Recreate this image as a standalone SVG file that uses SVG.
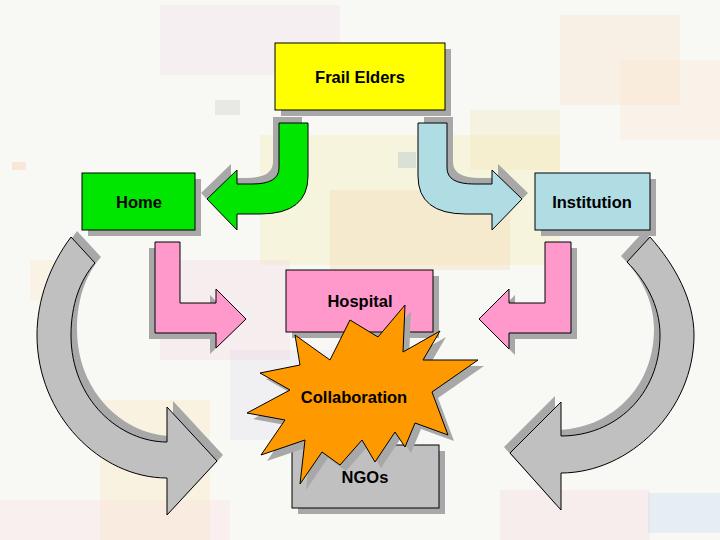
<svg xmlns="http://www.w3.org/2000/svg" width="720" height="540" viewBox="0 0 720 540">
<style>
.s{fill:#a8a8a8}
.o{stroke:#000;stroke-width:1}
.t{font-family:"Liberation Sans",Arial,sans-serif;font-size:16.5px;font-weight:bold;fill:#000;text-anchor:middle}
.bg rect{opacity:0.22}
</style>
<rect width="720" height="540" fill="#f8f8f4"/>
<g class="bg">
<rect x="160" y="5" width="180" height="70" fill="#f0d0e8"/>
<rect x="560" y="15" width="120" height="90" fill="#ffd8b0"/>
<rect x="260" y="135" width="300" height="130" fill="#f8e890"/>
<rect x="330" y="190" width="180" height="80" fill="#f0c890"/>
<rect x="470" y="110" width="90" height="60" fill="#f0e0a0"/>
<rect x="160" y="260" width="130" height="100" fill="#f0c8e0"/>
<rect x="230" y="350" width="110" height="90" fill="#d8d0e8"/>
<rect x="100" y="400" width="110" height="140" fill="#ffe0a0"/>
<rect x="0" y="500" width="230" height="40" fill="#ffd0e0"/>
<rect x="500" y="490" width="150" height="50" fill="#f8c8d8"/>
<rect x="648" y="493" width="72" height="40" fill="#a8c8f0"/>
<rect x="30" y="260" width="40" height="40" fill="#ffe0b0"/>
<rect x="215" y="100" width="25" height="15" fill="#b0b0b0"/>
<rect x="398" y="152" width="18" height="16" fill="#70a0c0"/>
<rect x="12" y="162" width="14" height="8" fill="#ffb070"/>
<rect x="620" y="60" width="100" height="80" fill="#ffe0c0"/>
</g>
<g id="connectors">
<g id="green-arrow">
<path class="s" transform="translate(-6,-6)" d="M279,123 L308,123 L308,176 Q308,214 260,214 L237,214 L237,230 L207,199 L237,170 L237,184 L252,184 Q279,184 279,168 Z"/>
<path class="o" fill="#00e600" d="M279,123 L308,123 L308,176 Q308,214 260,214 L237,214 L237,230 L207,199 L237,170 L237,184 L252,184 Q279,184 279,168 Z"/>
</g>
<g id="blue-arrow">
<path class="s" transform="translate(6,-6)" d="M447,123 L418,123 L418,176 Q418,214 466,214 L492,214 L492,230 L522,199 L492,170 L492,184 L474,184 Q447,184 447,168 Z"/>
<path class="o" fill="#b0dde4" d="M447,123 L418,123 L418,176 Q418,214 466,214 L492,214 L492,230 L522,199 L492,170 L492,184 L474,184 Q447,184 447,168 Z"/>
</g>
<g id="pink-left">
<path class="s" transform="translate(-6,6)" d="M155,242 L180,242 L180,303 L216,303 L216,289 L246,319 L216,348 L216,333 L155,333 Z"/>
<path class="o" fill="#ff99cc" d="M155,242 L180,242 L180,303 L216,303 L216,289 L246,319 L216,348 L216,333 L155,333 Z"/>
</g>
<g id="pink-right">
<path class="s" transform="translate(6,6)" d="M571,242 L545,242 L545,303 L509,303 L509,289 L479,319 L509,349 L509,333 L571,333 Z"/>
<path class="o" fill="#ff99cc" d="M571,242 L545,242 L545,303 L509,303 L509,289 L479,319 L509,349 L509,333 L571,333 Z"/>
</g>
<g id="gray-left">
<path class="s" transform="translate(6,-6)" d="M71,237 C50,265 37,300 37,335 C37,415 100,478 167,478 L167,515 L217,461 L167,407 L167,442 C120,442 71,400 71,335 C71,305 80,280 95,263 Z"/>
<path class="o" fill="#c0c0c0" d="M71,237 C50,265 37,300 37,335 C37,415 100,478 167,478 L167,515 L217,461 L167,407 L167,442 C120,442 71,400 71,335 C71,305 80,280 95,263 Z"/>
</g>
<g id="gray-right">
<path class="s" transform="translate(-6,-6)" d="M650,237 C675,265 694,300 694,335 C694,410 630,473 561,473 L561,510 L510,453 L561,402 L561,436 C615,436 660,395 660,335 C660,305 645,280 627,262 Z"/>
<path class="o" fill="#c0c0c0" d="M650,237 C675,265 694,300 694,335 C694,410 630,473 561,473 L561,510 L510,453 L561,402 L561,436 C615,436 660,395 660,335 C660,305 645,280 627,262 Z"/>
</g>
</g>
<g id="frail-elders">
<rect class="s" x="281" y="49" width="170" height="67"/>
<rect class="o" fill="#ffff00" x="275" y="43" width="170" height="67"/>
<text class="t" x="360" y="83">Frail Elders</text>
</g>
<g id="home">
<rect class="s" x="88" y="179" width="113" height="57"/>
<rect class="o" fill="#00e600" x="82" y="173" width="113" height="57"/>
<text class="t" x="139" y="208">Home</text>
</g>
<g id="institution">
<rect class="s" x="541" y="179" width="115" height="57"/>
<rect class="o" fill="#b0dde4" x="535" y="173" width="115" height="57"/>
<text class="t" x="592" y="208">Institution</text>
</g>
<g id="hospital">
<rect class="s" x="292" y="276" width="147" height="62"/>
<rect class="o" fill="#ff99cc" x="286" y="270" width="147" height="62"/>
<text class="t" x="360" y="307">Hospital</text>
</g>
<g id="ngos">
<rect class="s" x="298" y="451" width="147" height="63"/>
<rect class="o" fill="#c0c0c0" x="292" y="445" width="147" height="63"/>
</g>
<g id="collaboration">
<polygon class="s" transform="translate(6,6)" points="350,320 378,337 405,305 403,352 440,331 423,360 478,360 432,392 448,435 415,423 405,447 395,432 375,462 362,440 340,465 322,452 300,484 305,440 261,455 285,420 247,413 290,390 260,373 300,365 295,335 330,360"/>
<polygon class="o" fill="#ff9900" points="350,320 378,337 405,305 403,352 440,331 423,360 478,360 432,392 448,435 415,423 405,447 395,432 375,462 362,440 340,465 322,452 300,484 305,440 261,455 285,420 247,413 290,390 260,373 300,365 295,335 330,360"/>
<text class="t" x="354" y="403">Collaboration</text>
</g>
<text class="t" x="365" y="483">NGOs</text>
</svg>
